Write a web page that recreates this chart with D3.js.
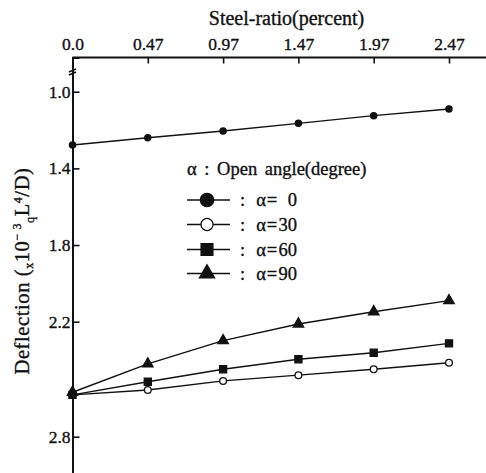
<!DOCTYPE html>
<html>
<head>
<meta charset="utf-8">
<script src="https://cdn.jsdelivr.net/npm/d3@7/dist/d3.min.js"></script>
<style>
  html, body { margin: 0; padding: 0; background: #fff; }
  svg { display: block; }
</style>
</head>
<body>
<svg id="chart" width="486" height="473"></svg>
<script>
// Steel-ratio categories (top axis) and deflection for each opening angle
const steelRatio = ["0.0", "0.47", "0.97", "1.47", "1.97", "2.47"];
const alpha0  = [1.278, 1.240, 1.205, 1.165, 1.125, 1.090];
const alpha30 = [2.582, 2.556, 2.509, 2.479, 2.448, 2.414];
const alpha60 = [2.582, 2.513, 2.448, 2.396, 2.362, 2.313];
const alpha90 = [2.568, 2.420, 2.299, 2.212, 2.148, 2.090];
const angles = [0, 30, 60, 90];
const yTicks = [1.0, 1.4, 1.8, 2.2, 2.8];

const FONT = "'Liberation Serif', 'DejaVu Serif', serif";
const ink = "#111";

const svg = d3.select("#chart").attr("font-family", FONT);
const W = 486, H = 473;
const axisTop = 57.5, axisLeft = 72.5;

const x = d3.scalePoint().domain(steelRatio).range([axisLeft, 449]);
const y = d3.scaleLinear().domain([1.0, 2.8]).range([91.7, 436.7]);

// y axis runs the full height of the frame
const yAxisScale = y.copy().domain([y.invert(axisTop), y.invert(H + 2)]).range([axisTop, H + 2]);

function styleText(sel, size) {
  return sel.attr("font-family", FONT).attr("font-size", size)
    .attr("fill", ink).attr("stroke", ink).attr("stroke-width", 0.35);
}

// top axis
const gx = svg.append("g").attr("transform", `translate(0,${axisTop})`)
  .call(d3.axisTop(x).tickSize(-6).tickPadding(7.5));
gx.attr("font-family", FONT);
gx.select(".domain").remove();
gx.selectAll(".tick line").attr("stroke", ink).attr("stroke-width", 1.6);
styleText(gx.selectAll(".tick text"), 17.5);
svg.append("line")
  .attr("x1", axisLeft).attr("x2", W).attr("y1", axisTop).attr("y2", axisTop)
  .attr("stroke", ink).attr("stroke-width", 2);

// left axis
const gy = svg.append("g").attr("transform", `translate(${axisLeft},0)`)
  .call(d3.axisLeft(yAxisScale).tickValues(yTicks).tickFormat(d3.format(".1f"))
    .tickSizeOuter(0).tickSize(-7).tickPadding(2));
gy.attr("font-family", FONT);
gy.select(".domain").attr("stroke", ink).attr("stroke-width", 2);
gy.selectAll(".tick line").attr("stroke", ink).attr("stroke-width", 1.6);
styleText(gy.selectAll(".tick text"), 17.5);

// axis break mark
const br = svg.append("g").attr("transform", `translate(${axisLeft},72)`)
  .attr("stroke", ink).attr("stroke-width", 1.6);
br.append("line").attr("x1", -3.5).attr("y1", 0).attr("x2", 3.5).attr("y2", -3);
br.append("line").attr("x1", -3.5).attr("y1", 3).attr("x2", 3.5).attr("y2", 0);

// axis titles
styleText(svg.append("text").attr("x", 286.5).attr("y", 25).attr("text-anchor", "middle")
  .attr("word-spacing", 1).text("Steel-ratio(percent)"), 20);

const yl = styleText(svg.append("text").attr("transform", "translate(29,271) rotate(-90)")
  .attr("text-anchor", "middle").attr("letter-spacing", 0.6), 20.5);
yl.append("tspan").text("Deflection (");
yl.append("tspan").attr("font-size", 12).attr("dy", 4).text("x");
yl.append("tspan").attr("dy", -4).text("10");
yl.append("tspan").attr("font-size", 12).attr("dy", -8).text("\u2212 3");
yl.append("tspan").attr("font-size", 12).attr("dy", 13).text("q");
yl.append("tspan").attr("dy", -5).text("L");
yl.append("tspan").attr("font-size", 12).attr("dy", -7).text("4");
yl.append("tspan").attr("dy", 7).text("/D)");

// series
const series = [
  { angle: angles[0], values: alpha0,  sym: d3.symbolCircle,   size: 30, fill: ink,    lsize: 140 },
  { angle: angles[1], values: alpha30, sym: d3.symbolCircle,   size: 36, fill: "#fff", lsize: 115 },
  { angle: angles[2], values: alpha60, sym: d3.symbolSquare,   size: 50, fill: ink,    lsize: 140 },
  { angle: angles[3], values: alpha90, sym: d3.symbolTriangle, size: 48, fill: ink,    lsize: 100 }
];

const line = d3.line().x((d, i) => x(steelRatio[i])).y(d => y(d));

series.forEach(s => {
  svg.append("path").datum(s.values).attr("d", line)
    .attr("fill", "none").attr("stroke", ink).attr("stroke-width", 1.4);
  svg.append("g").selectAll("path").data(s.values).join("path")
    .attr("transform", (d, i) => `translate(${x(steelRatio[i])},${y(d)})`)
    .attr("d", d3.symbol(s.sym, s.size))
    .attr("fill", s.fill).attr("stroke", ink).attr("stroke-width", 1.3);
});

// legend
const lg = svg.append("g");
styleText(lg.append("text").attr("x", 187).attr("y", 175).attr("word-spacing", 3)
  .text("\u03b1 : Open angle(degree)"), 18.5);
const rowY = [200, 224.5, 249.5, 273.5];
series.forEach((s, i) => {
  const g = lg.append("g").attr("transform", `translate(0,${rowY[i]})`);
  g.append("line").attr("x1", 187).attr("x2", 230).attr("y1", 0).attr("y2", 0)
    .attr("stroke", ink).attr("stroke-width", 1.4);
  g.append("path").attr("transform", "translate(207,0)")
    .attr("d", d3.symbol(s.sym, s.lsize))
    .attr("fill", s.fill).attr("stroke", ink).attr("stroke-width", 1.3);
  styleText(g.append("text").attr("x", 240).attr("y", 6).text(":"), 18.5);
  styleText(g.append("text").attr("x", 278).attr("y", 6).attr("text-anchor", "end")
    .attr("letter-spacing", 0.8).text("\u03b1="), 18.5);
  styleText(g.append("text").attr("x", 297).attr("y", 6).attr("text-anchor", "end")
    .text(String(s.angle)), 18.5);
});
</script>
</body>
</html>
